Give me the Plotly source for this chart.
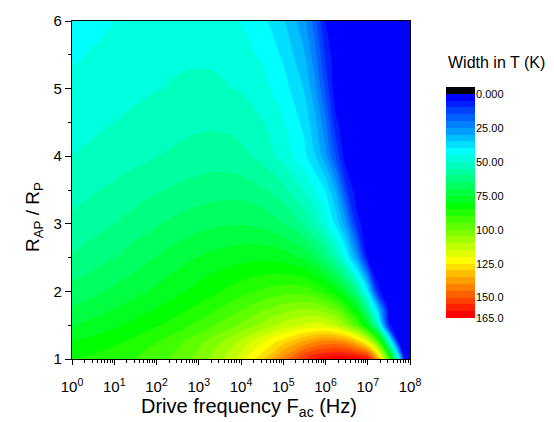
import plotly.graph_objects as go

# ---- data ----
# log10 of drive frequency (Hz) and resistance ratio R_AP/R_P of the sampled grid
log_freq = [0, 0.5, 1, 1.5, 2, 2.5, 3, 3.5, 4, 4.5, 5, 5.5, 5.75, 6, 6.25, 6.5, 6.75, 7, 7.25, 7.5, 7.75, 7.875, 8]
ratio = [1, 1.25, 1.5, 1.75, 2, 2.5, 3, 3.5, 4, 4.5, 5, 5.5, 6]

# width in T (K), one list per ratio row
w_r100 = [85, 86.3, 88, 90.2, 93, 96.8, 101.8, 108.6, 117.5, 128.5, 142, 156, 160.5, 163, 164.5, 164.6, 163.5, 160.5, 136, 96, 42, 3, 1]
w_r125 = [80, 81.9, 84, 86.7, 89.8, 93.6, 98.5, 104.5, 111.5, 119.5, 128, 136.5, 140, 142.3, 142.5, 139.5, 132, 119, 95, 53, 1, 1, 1]
w_r150 = [74.5, 76.7, 79, 81.6, 84.4, 87.6, 91.4, 95.9, 101, 106.6, 112, 116, 117, 116.3, 112.5, 105, 94.5, 78, 52, 6, 1, 1, 1]
w_r175 = [70.4, 72.5, 74.8, 77.4, 80, 83, 86.3, 90, 94.2, 98.6, 102.5, 104.5, 104, 101.5, 97, 89, 77.5, 59, 32, 1, 1, 1, 1]
w_r200 = [66.7, 68.7, 71, 73.5, 76.1, 78.9, 81.8, 84.9, 88, 90.9, 92.8, 92.6, 90.5, 87, 81.5, 73, 60, 40, 6, 1, 1, 1, 1]
w_r250 = [60.7, 62.7, 65, 67.6, 70.2, 72.8, 75.1, 77, 78.3, 78.8, 77.7, 73.8, 69.5, 63.5, 55, 43, 27, 3, 1, 1, 1, 1, 1]
w_r300 = [56.3, 58.1, 60, 62.2, 64.4, 66.5, 68.2, 69.3, 69.6, 68.6, 65.3, 58.8, 53.8, 47, 38.5, 26, 7, 1, 1, 1, 1, 1, 1]
w_r350 = [52.8, 54.5, 56.1, 57.8, 59.4, 60.9, 62.2, 63, 62.8, 60.8, 56.5, 49.5, 45, 39.5, 29, 11, 1, 1, 1, 1, 1, 1, 1]
w_r400 = [50, 51.1, 52.3, 53.6, 54.9, 56.1, 57.1, 57.4, 56.3, 53.4, 48.2, 41.5, 35.5, 27, 14, 1, 1, 1, 1, 1, 1, 1, 1]
w_r450 = [48, 49, 50, 51.1, 52.2, 53.2, 54, 54.1, 53, 50.3, 45.5, 38.5, 31.5, 21, 6, 1, 1, 1, 1, 1, 1, 1, 1]
w_r500 = [46.2, 47, 47.9, 48.9, 49.8, 50.5, 50.9, 50.7, 49.5, 46.8, 42.3, 34.5, 26.5, 14, 1, 1, 1, 1, 1, 1, 1, 1, 1]
w_r550 = [44.4, 45.4, 46.4, 47.5, 48.5, 49.2, 49.4, 48.9, 47.3, 44.2, 39.2, 30.5, 22, 9, 1, 1, 1, 1, 1, 1, 1, 1, 1]
w_r600 = [42.5, 43.7, 44.9, 46.1, 47.2, 47.8, 47.8, 46.8, 44.8, 41.5, 36, 26.5, 17, 4.5, 1, 1, 1, 1, 1, 1, 1, 1, 1]

x_tick_exp = [0, 1, 2, 3, 4, 5, 6, 7, 8]
y_ticks = [1, 2, 3, 4, 5, 6]

level_start, level_end, level_step = 0, 160, 5
cbar_tickvals = [0, 25, 50, 75, 100, 125, 150, 165]
cbar_ticktext = ["0.000", "25.00", "50.00", "75.00", "100.0", "125.0", "150.0", "165.0"]

# ---- build ----
freq = [10 ** e for e in log_freq]
z = [w_r100, w_r125, w_r150, w_r175, w_r200, w_r250, w_r300, w_r350,
     w_r400, w_r450, w_r500, w_r550, w_r600]

nb = (level_end - level_start) // level_step + 1  # number of bands above start
colorscale = [
    [0.0, "rgb(0,0,0)"],
    [1 / nb, "rgb(0,0,255)"],
    [9 / nb, "rgb(0,255,255)"],
    [17 / nb, "rgb(0,255,0)"],
    [25 / nb, "rgb(255,255,0)"],
    [1.0, "rgb(255,0,0)"],
]

FONT = "Liberation Sans, Arial, sans-serif"

fig = go.Figure()
fig.add_trace(go.Contour(
    x=freq, y=ratio, z=z,
    colorscale=colorscale,
    autocontour=False,
    contours=dict(start=level_start, end=level_end, size=level_step,
                  coloring="fill", showlines=False),
    line=dict(width=0, smoothing=1.3),
    showscale=False,
    hoverinfo="skip",
))

# custom (reversed) colour bar drawn as a heatmap on its own axes
cbar_mid = [level_start - level_step / 2 + level_step * i for i in range(nb + 1)]
fig.add_trace(go.Heatmap(
    x=[0], y=cbar_mid, z=[[v] for v in cbar_mid],
    colorscale=colorscale,
    zmin=cbar_mid[0], zmax=cbar_mid[-1],
    showscale=False, xaxis="x2", yaxis="y2", hoverinfo="skip",
))

# page body has an 8px margin: figure is drawn 8px smaller, all positions shifted
OFF = 8
W, H = 554 - OFF, 422 - OFF
L, T = 72 - OFF, 21 - OFF
PW = W - L - 10


def px(xp):
    return (xp - 72) / PW


def py(yp):
    return (359 - yp) / 338


fig.update_layout(
    width=W, height=H,
    margin=dict(l=L, r=10, t=T, b=H - T - 338, autoexpand=False),
    paper_bgcolor="white", plot_bgcolor="white",
    font=dict(family=FONT, color="black"),
    showlegend=False,
    xaxis=dict(
        domain=[0, 338 / PW], type="log", range=[0, 8],
        tickmode="array", tickvals=[10 ** e for e in x_tick_exp],
        ticktext=["10<sup>%d</sup>" % e for e in x_tick_exp],
        ticks="outside", ticklen=5, tickwidth=1.2, tickcolor="black",
        tickfont=dict(size=15), ticklabelstandoff=9,
        minor=dict(ticks="outside", ticklen=3, tickwidth=1, tickcolor="black",
                   tickmode="array",
                   tickvals=[k * 10 ** n for n in range(8) for k in range(2, 10)]),
        showline=True, linecolor="black", linewidth=1.3, mirror=True,
        showgrid=False, zeroline=False,
    ),
    yaxis=dict(
        domain=[0, 1], range=[1, 6],
        tickmode="array", tickvals=y_ticks,
        ticks="outside", ticklen=6, tickwidth=1.2, tickcolor="black",
        tickfont=dict(size=15),
        minor=dict(ticks="outside", ticklen=3, tickwidth=1, tickcolor="black", dtick=0.5),
        showline=True, linecolor="black", linewidth=1.3, mirror=True,
        showgrid=False, zeroline=False,
    ),
    xaxis2=dict(domain=[px(446), px(475)], anchor="y2",
                range=[-0.5, 0.5], visible=False),
    yaxis2=dict(domain=[py(318), py(87)], anchor="x2",
                range=[165, -5], side="right",
                tickmode="array", tickvals=cbar_tickvals, ticktext=cbar_ticktext,
                ticks="", tickfont=dict(size=11),
                showline=False, showgrid=False, zeroline=False),
    annotations=[
        dict(text="Drive frequency F<sub>ac</sub> (Hz)", xref="paper", yref="paper",
             x=px(249), y=py(407), xanchor="center", yanchor="middle",
             showarrow=False, font=dict(size=20)),
        dict(text="R<sub>AP</sub> / R<sub>P</sub>", xref="paper", yref="paper",
             x=px(34), y=py(217), xanchor="center", yanchor="middle",
             textangle=-90, showarrow=False, font=dict(size=19)),
        dict(text="Width in T (K)", xref="paper", yref="paper",
             x=px(446), y=py(63), xanchor="left", yanchor="middle",
             showarrow=False, font=dict(size=16)),
    ],
)

fig.write_html("out.html")
